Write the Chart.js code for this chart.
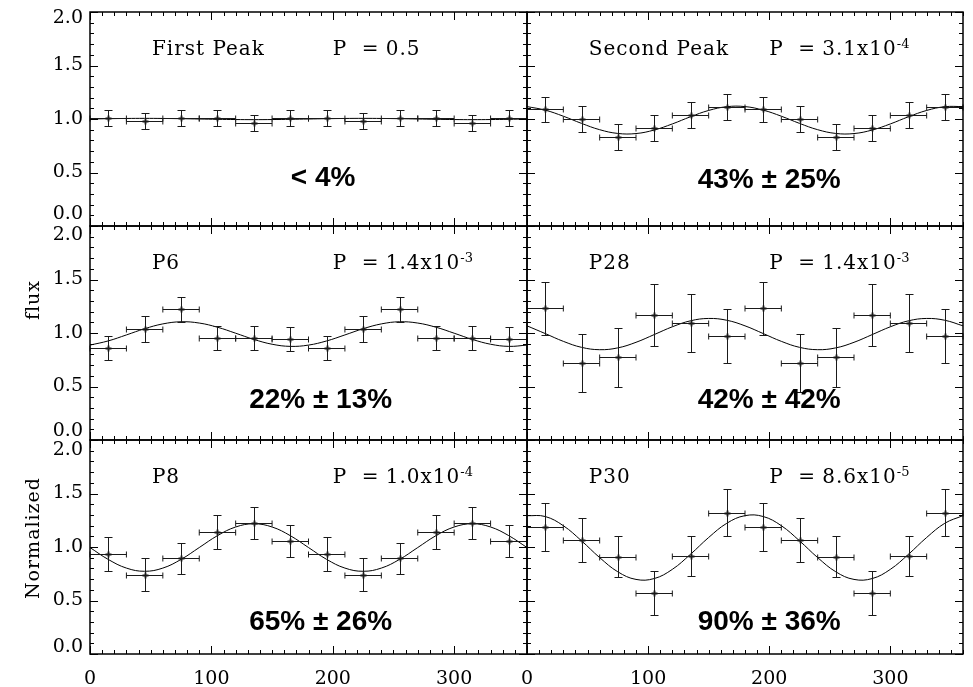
<!DOCTYPE html>
<html lang="en">
<head>
<meta charset="UTF-8">
<title>Normalized flux vs phase</title>
<script src="https://cdn.jsdelivr.net/npm/chart.js"></script>
<style>
  html, body { margin: 0; padding: 0; background: #ffffff; }
  #wrap { position: relative; width: 973px; height: 687px; }
  #wrap canvas { position: absolute; left: 0; top: 0; }
  .ytitle { position: absolute; font-family: "DejaVu Serif", serif; font-size: 19px; color: #000;
            letter-spacing: 1px; transform: translate(-50%, -50%) rotate(-90deg); white-space: nowrap; }
</style>
</head>
<body>
<div id="wrap">
  <canvas id="c0" width="973" height="687"></canvas>
  <canvas id="c1" width="973" height="687"></canvas>
  <canvas id="c2" width="973" height="687"></canvas>
  <canvas id="c3" width="973" height="687"></canvas>
  <canvas id="c4" width="973" height="687"></canvas>
  <canvas id="c5" width="973" height="687"></canvas>
  <div class="ytitle" style="left:32px; top:300px;">flux</div>
  <div class="ytitle" style="left:32px; top:538px;">Normalized</div>
</div>
<script>
// phase bins (deg), half bin width, and phases where the fit is sampled
const phase = [15, 45, 75, 105, 135, 165, 195, 225, 255, 285, 315, 345];
const phaseErr = 15;
const fitPhase = [0, 15, 30, 45, 60, 75, 90, 105, 120, 135, 150, 165, 180,
                  195, 210, 225, 240, 255, 270, 285, 300, 315, 330, 345, 360];

const firstPeakFlux = [1.005, 0.985, 1.012, 1.01, 0.965, 1.01, 1.005, 0.985, 1.012, 1.01, 0.965, 1.01];
const firstPeakErr  = [0.075, 0.075, 0.075, 0.075, 0.075, 0.075, 0.075, 0.075, 0.075, 0.075, 0.075, 0.075];
const firstPeakFit  = [1.000, 1.003, 1.005, 1.006, 1.005, 1.003, 1.000, 0.997, 0.995, 0.994, 0.995, 0.997, 1.000,
                       1.003, 1.005, 1.006, 1.005, 1.003, 1.000, 0.997, 0.995, 0.994, 0.995, 0.997, 1.000];

const secondPeakFlux = [1.09, 1.00, 0.83, 0.915, 1.04, 1.115, 1.09, 1.00, 0.83, 0.915, 1.04, 1.115];
const secondPeakErr  = [0.12, 0.12, 0.12, 0.12, 0.12, 0.12, 0.12, 0.12, 0.12, 0.12, 0.12, 0.12];
const secondPeakFit  = [1.116, 1.083, 1.026, 0.959, 0.900, 0.865, 0.864, 0.897, 0.954, 1.021, 1.080, 1.115, 1.116,
                        1.083, 1.026, 0.959, 0.900, 0.865, 0.864, 0.897, 0.954, 1.021, 1.080, 1.115, 1.116];

const p6Flux = [0.86, 1.04, 1.22, 0.955, 0.955, 0.945, 0.86, 1.04, 1.22, 0.955, 0.955, 0.945];
const p6Err  = [0.11, 0.12, 0.12, 0.115, 0.115, 0.11, 0.11, 0.12, 0.12, 0.115, 0.115, 0.11];
const p6Fit  = [0.887, 0.926, 0.982, 1.040, 1.085, 1.105, 1.093, 1.054, 0.998, 0.940, 0.895, 0.875, 0.887,
                0.926, 0.982, 1.040, 1.085, 1.105, 1.093, 1.054, 0.998, 0.940, 0.895, 0.875, 0.887];

const p28Flux = [1.23, 0.72, 0.775, 1.165, 1.09, 0.97, 1.23, 0.72, 0.775, 1.165, 1.09, 0.97];
const p28Err  = [0.25, 0.27, 0.275, 0.29, 0.27, 0.25, 0.25, 0.27, 0.275, 0.29, 0.27, 0.25];
const p28Fit  = [1.067, 0.995, 0.922, 0.866, 0.844, 0.861, 0.913, 0.985, 1.058, 1.114, 1.136, 1.119, 1.067,
                 0.995, 0.922, 0.866, 0.844, 0.861, 0.913, 0.985, 1.058, 1.114, 1.136, 1.119, 1.067];

const p8Flux = [0.935, 0.74, 0.895, 1.14, 1.225, 1.055, 0.935, 0.74, 0.895, 1.14, 1.225, 1.055];
const p8Err  = [0.16, 0.155, 0.145, 0.16, 0.15, 0.15, 0.16, 0.155, 0.145, 0.16, 0.15, 0.15];
const p8Fit  = [0.995, 0.884, 0.803, 0.773, 0.803, 0.884, 0.995, 1.106, 1.187, 1.217, 1.187, 1.106, 0.995,
                0.884, 0.803, 0.773, 0.803, 0.884, 0.995, 1.106, 1.187, 1.217, 1.187, 1.106, 0.995];

const p30Flux = [1.19, 1.065, 0.91, 0.57, 0.915, 1.32, 1.19, 1.065, 0.91, 0.57, 0.915, 1.32];
const p30Err  = [0.225, 0.205, 0.195, 0.21, 0.19, 0.22, 0.225, 0.205, 0.195, 0.21, 0.19, 0.22];
const p30Fit  = [1.293, 1.285, 1.199, 1.058, 0.901, 0.768, 0.697, 0.705, 0.791, 0.932, 1.089, 1.222, 1.293,
                 1.285, 1.199, 1.058, 0.901, 0.768, 0.697, 0.705, 0.791, 0.932, 1.089, 1.222, 1.293];

const panelNames = ['First Peak', 'Second Peak', 'P6', 'P28', 'P8', 'P30'];
const pValue = ['0.5', '3.1x10', '1.4x10', '1.4x10', '1.0x10', '8.6x10'];
const pExp = ['', '-4', '-3', '-3', '-4', '-5'];
const ampText = ['< 4%', '43% \u00b1 25%', '22% \u00b1 13%', '42% \u00b1 42%', '65% \u00b1 26%', '90% \u00b1 36%'];
const yTicks = [0, 0.5, 1, 1.5, 2];
const xTicks = [0, 100, 200, 300];

// page layout of the 3x2 grid
const colLeft = [90, 527], colRight = [527, 963];
const rowTop = [12, 226, 440], rowBottom = [226, 440, 654];
const W = 973, H = 687;
const serif = '"DejaVu Serif", serif';

const panelFrame = {
  id: 'panelFrame',
  afterDatasetsDraw(chart) {
    const { ctx, scales: { x, y } } = chart;
    const pts = chart.data.datasets[1].data;
    ctx.save();
    ctx.strokeStyle = '#1a1a1a';
    pts.forEach(p => {
      const px = Math.round(x.getPixelForValue(p.x)) + 0.5;
      const py = Math.round(y.getPixelForValue(p.y)) + 0.5;
      const x0 = x.getPixelForValue(p.x - phaseErr), x1 = x.getPixelForValue(p.x + phaseErr);
      const y0 = Math.round(y.getPixelForValue(p.y - p.err)) + 0.5;
      const y1 = Math.round(y.getPixelForValue(p.y + p.err)) + 0.5;
      ctx.lineWidth = 1;
      ctx.beginPath();
      ctx.moveTo(px, y0); ctx.lineTo(px, y1);
      ctx.moveTo(px - 4, y0); ctx.lineTo(px + 4, y0);
      ctx.moveTo(px - 4, y1); ctx.lineTo(px + 4, y1);
      ctx.moveTo(x0, py); ctx.lineTo(x1, py);
      ctx.moveTo(x0, py - 3); ctx.lineTo(x0, py + 3);
      ctx.moveTo(x1, py - 3); ctx.lineTo(x1, py + 3);
      ctx.stroke();
      // darker plus at the bin centre
      ctx.lineWidth = 1.8;
      ctx.beginPath();
      ctx.moveTo(px - 3, py); ctx.lineTo(px + 3, py);
      ctx.moveTo(px, py - 3); ctx.lineTo(px, py + 3);
      ctx.stroke();
    });
    ctx.restore();
  },
  afterDraw(chart, args, o) {
    const { ctx, chartArea: a, scales: { x, y } } = chart;
    ctx.save();
    ctx.strokeStyle = '#000';
    ctx.lineWidth = 1.5;
    ctx.strokeRect(a.left, a.top, a.right - a.left, a.bottom - a.top);

    // inward ticks on all four sides
    ctx.lineWidth = 1;
    ctx.beginPath();
    for (let i = 0; i <= 36; i++) {
      const px = Math.round(x.getPixelForValue(i * 10)) + 0.5;
      const len = i % 10 === 0 ? 8 : 4;
      ctx.moveTo(px, a.bottom); ctx.lineTo(px, a.bottom - len);
      ctx.moveTo(px, a.top); ctx.lineTo(px, a.top + len);
    }
    for (let i = 0; i <= 20; i++) {
      const py = Math.round(y.getPixelForValue(i / 10)) + 0.5;
      const len = i % 5 === 0 ? 8 : 4;
      ctx.moveTo(a.left, py); ctx.lineTo(a.left + len, py);
      ctx.moveTo(a.right, py); ctx.lineTo(a.right - len, py);
    }
    ctx.stroke();

    ctx.fillStyle = '#000';
    ctx.font = '19px ' + serif;
    if (o.yLabels) {
      ctx.textAlign = 'right';
      ctx.textBaseline = 'middle';
      yTicks.forEach(v => {
        let py = y.getPixelForValue(v);
        if (v === 2) py += o.topShift;
        if (v === 0) py += o.bottomShift;
        ctx.fillText(v.toFixed(1), a.left - 7, py);
      });
    }
    if (o.xLabels) {
      ctx.textAlign = 'center';
      ctx.textBaseline = 'middle';
      xTicks.forEach(v => ctx.fillText(String(v), x.getPixelForValue(v), a.bottom + 25));
    }

    // panel name and significance
    ctx.textAlign = 'left';
    ctx.textBaseline = 'alphabetic';
    ctx.letterSpacing = '1px';
    ctx.font = '20px ' + serif;
    const by = y.getPixelForValue(1.6);
    ctx.fillText(o.name, x.getPixelForValue(51), by);
    const tx = x.getPixelForValue(200);
    ctx.fillText('P', tx, by);
    ctx.fillText('=', tx + 29, by);
    ctx.fillText(o.pValue, tx + 53, by);
    if (o.pExp) {
      const w = ctx.measureText(o.pValue).width;
      ctx.font = '13px ' + serif;
      ctx.letterSpacing = '0px';
      ctx.fillText(o.pExp, tx + 53 + w, by - 7);
    }

    // modulation amplitude
    ctx.letterSpacing = '0px';
    ctx.font = 'bold 28px "Liberation Sans", Arial, sans-serif';
    ctx.textAlign = 'center';
    ctx.fillText(o.amp, x.getPixelForValue(o.ampX), y.getPixelForValue(o.ampY));
    ctx.restore();
  }
};

const panels = [
  { flux: firstPeakFlux, err: firstPeakErr, fit: firstPeakFit, ampX: 192, ampY: 0.377 },
  { flux: secondPeakFlux, err: secondPeakErr, fit: secondPeakFit, ampX: 200, ampY: 0.352 },
  { flux: p6Flux, err: p6Err, fit: p6Fit, ampX: 190, ampY: 0.296 },
  { flux: p28Flux, err: p28Err, fit: p28Fit, ampX: 200, ampY: 0.296 },
  { flux: p8Flux, err: p8Err, fit: p8Fit, ampX: 190, ampY: 0.224 },
  { flux: p30Flux, err: p30Err, fit: p30Fit, ampX: 200, ampY: 0.224 }
];
const topShift = [6, 9, 10], bottomShift = [-12, -9, -7];

panels.forEach((p, k) => {
  const col = k % 2, row = Math.floor(k / 2);
  new Chart(document.getElementById('c' + k), {
    type: 'scatter',
    data: {
      datasets: [
        {
          type: 'line',
          data: fitPhase.map((v, i) => ({ x: v, y: p.fit[i] })),
          borderColor: '#000', borderWidth: 1, pointRadius: 0, tension: 0.4, fill: false
        },
        {
          data: phase.map((v, i) => ({ x: v, y: p.flux[i], err: p.err[i] })),
          pointRadius: 0
        }
      ]
    },
    options: {
      responsive: false,
      animation: false,
      events: [],
      layout: {
        padding: { left: colLeft[col], right: W - colRight[col], top: rowTop[row], bottom: H - rowBottom[row] }
      },
      scales: {
        x: { type: 'linear', min: 0, max: 360, display: false },
        y: { type: 'linear', min: 0, max: 2, display: false }
      },
      plugins: {
        legend: { display: false },
        tooltip: { enabled: false },
        panelFrame: {
          name: panelNames[k], pValue: pValue[k], pExp: pExp[k], amp: ampText[k],
          ampX: p.ampX, ampY: p.ampY,
          yLabels: col === 0, xLabels: row === 2,
          topShift: topShift[row], bottomShift: bottomShift[row]
        }
      }
    },
    plugins: [panelFrame]
  });
});
</script>
</body>
</html>
